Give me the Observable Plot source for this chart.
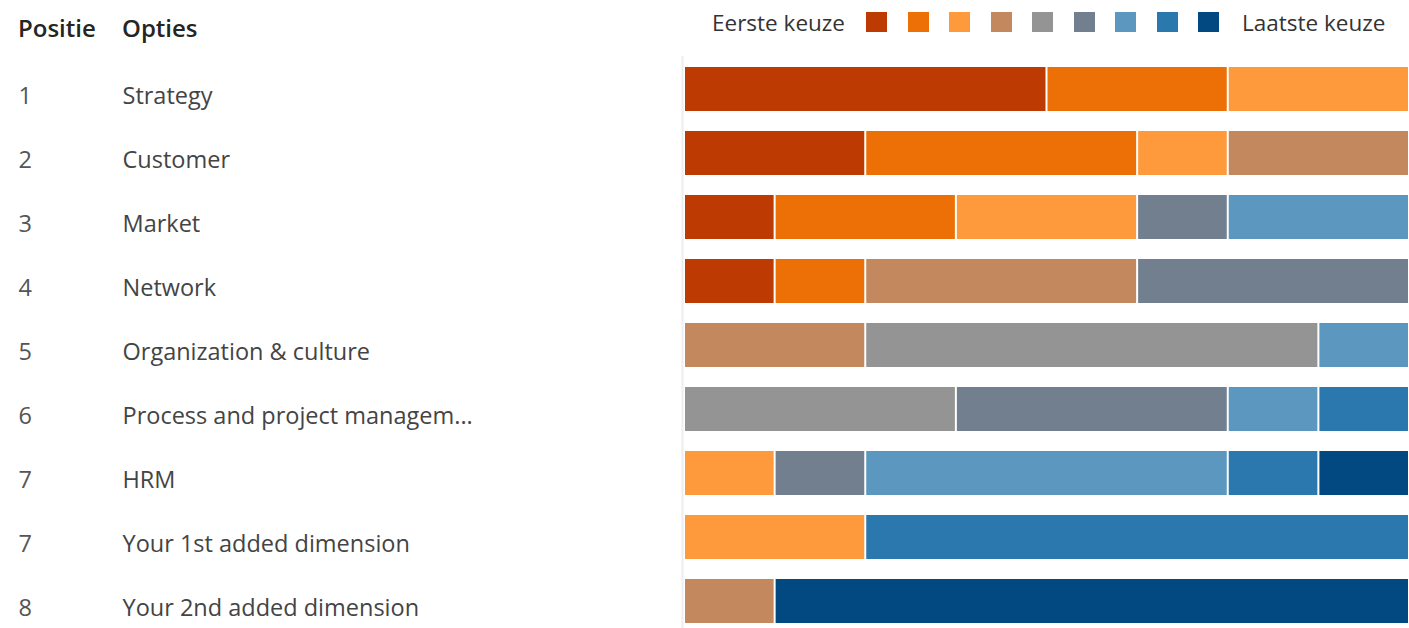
<!DOCTYPE html>
<html>
<head>
<meta charset="utf-8">
<script src="https://cdn.jsdelivr.net/npm/d3@7"></script>
<script src="https://cdn.jsdelivr.net/npm/@observablehq/plot@0.6"></script>
<style>
  html, body { margin: 0; padding: 0; background: #fff; overflow: hidden; }
  body { width: 1409px; height: 628px; position: relative; font-family: "Open Sans", "Noto Sans", sans-serif; }
  #header { position: relative; height: 56px; }
  .hdr { position: absolute; top: 16px; font-size: 24px; line-height: 24px; font-weight: 600; color: #252525; }
  .lab { position: absolute; top: 12px; font-size: 22.5px; line-height: 22.5px; color: #333; white-space: nowrap; }
  .sw { position: absolute; top: 12px; width: 21px; height: 20px; }
</style>
</head>
<body>
<div id="header">
  <div class="hdr" style="left:18px">Positie</div>
  <div class="hdr" style="left:122px">Opties</div>
</div>
<div id="chart"></div>
<script>
// ---- Data ----
const options = ["Strategy", "Customer", "Market", "Network", "Organization & culture",
  "Process and project managem...", "HRM", "Your 1st added dimension", "Your 2nd added dimension"];
const positions = [1, 2, 3, 4, 5, 6, 7, 7, 8];
const choices = [1, 2, 3, 4, 5, 6, 7, 8, 9];
const choiceColors = ["#BD3A03", "#EC7006", "#FE9A3C", "#C4885E", "#949494", "#717F8F", "#5C97C0", "#2B78AE", "#024981"];
const legendFirst = "Eerste keuze";
const legendLast = "Laatste keuze";
// number of votes per choice rank, per option (in order of `options`)
const keuze1 = [4, 2, 1, 1, 0, 0, 0, 0, 0];
const keuze2 = [2, 3, 2, 1, 0, 0, 0, 0, 0];
const keuze3 = [2, 1, 2, 0, 0, 0, 1, 2, 0];
const keuze4 = [0, 2, 0, 3, 2, 0, 0, 0, 1];
const keuze5 = [0, 0, 0, 0, 5, 3, 0, 0, 0];
const keuze6 = [0, 0, 1, 3, 0, 3, 1, 0, 0];
const keuze7 = [0, 0, 2, 0, 1, 1, 4, 0, 0];
const keuze8 = [0, 0, 0, 0, 0, 1, 1, 6, 0];
const keuze9 = [0, 0, 0, 0, 0, 0, 1, 0, 7];
const keuzes = [keuze1, keuze2, keuze3, keuze4, keuze5, keuze6, keuze7, keuze8, keuze9];

// ---- Build table ----
const rows = [];
options.forEach((opt, i) => {
  choices.forEach((c, j) => {
    const v = keuzes[j][i];
    if (v > 0) rows.push({option: opt, choice: c, count: v});
  });
});
const labels = options.map((o, i) => ({option: o, pos: positions[i]}));

// ---- Legend ----
const header = document.getElementById("header");
const l1 = document.createElement("div"); l1.className = "lab"; l1.textContent = legendFirst;
l1.style.right = (1409 - 845) + "px";
header.appendChild(l1);
choiceColors.forEach((col, i) => {
  const s = document.createElement("div"); s.className = "sw"; s.style.background = col;
  s.style.left = (866 + i * 41.5) + "px";
  header.appendChild(s);
});
const l2 = document.createElement("div"); l2.className = "lab"; l2.textContent = legendLast;
l2.style.left = "1242px";
header.appendChild(l2);

// ---- Chart ----
const chart = Plot.plot({
  width: 1409,
  height: 578,
  marginLeft: 684,
  marginRight: 0,
  marginTop: 0,
  marginBottom: 0,
  style: {fontFamily: "'Open Sans', 'Noto Sans', sans-serif", fontSize: "23.5px", background: "#fff"},
  x: {domain: [0, 8], axis: null},
  y: {domain: options, axis: null, paddingInner: 0.31, paddingOuter: 0.155},
  color: {type: "ordinal", domain: choices, range: choiceColors},
  marks: [
    Plot.ruleX([0], {stroke: "#eeeeee", strokeWidth: 2, dx: -2}),
    Plot.barX(rows, Plot.stackX({x: "count", y: "option", fill: "choice", order: "choice", insetLeft: 1, insetRight: 1})),
    Plot.text(labels, {y: "option", text: d => String(d.pos), frameAnchor: "left", textAnchor: "start", dx: -666, dy: 6.5, fill: "#555", fontSize: 23.5}),
    Plot.text(labels, {y: "option", text: "option", frameAnchor: "left", textAnchor: "start", dx: -562, dy: 6.5, fill: "#444", fontSize: 23.5})
  ]
});
document.getElementById("chart").appendChild(chart);
</script>
</body>
</html>
